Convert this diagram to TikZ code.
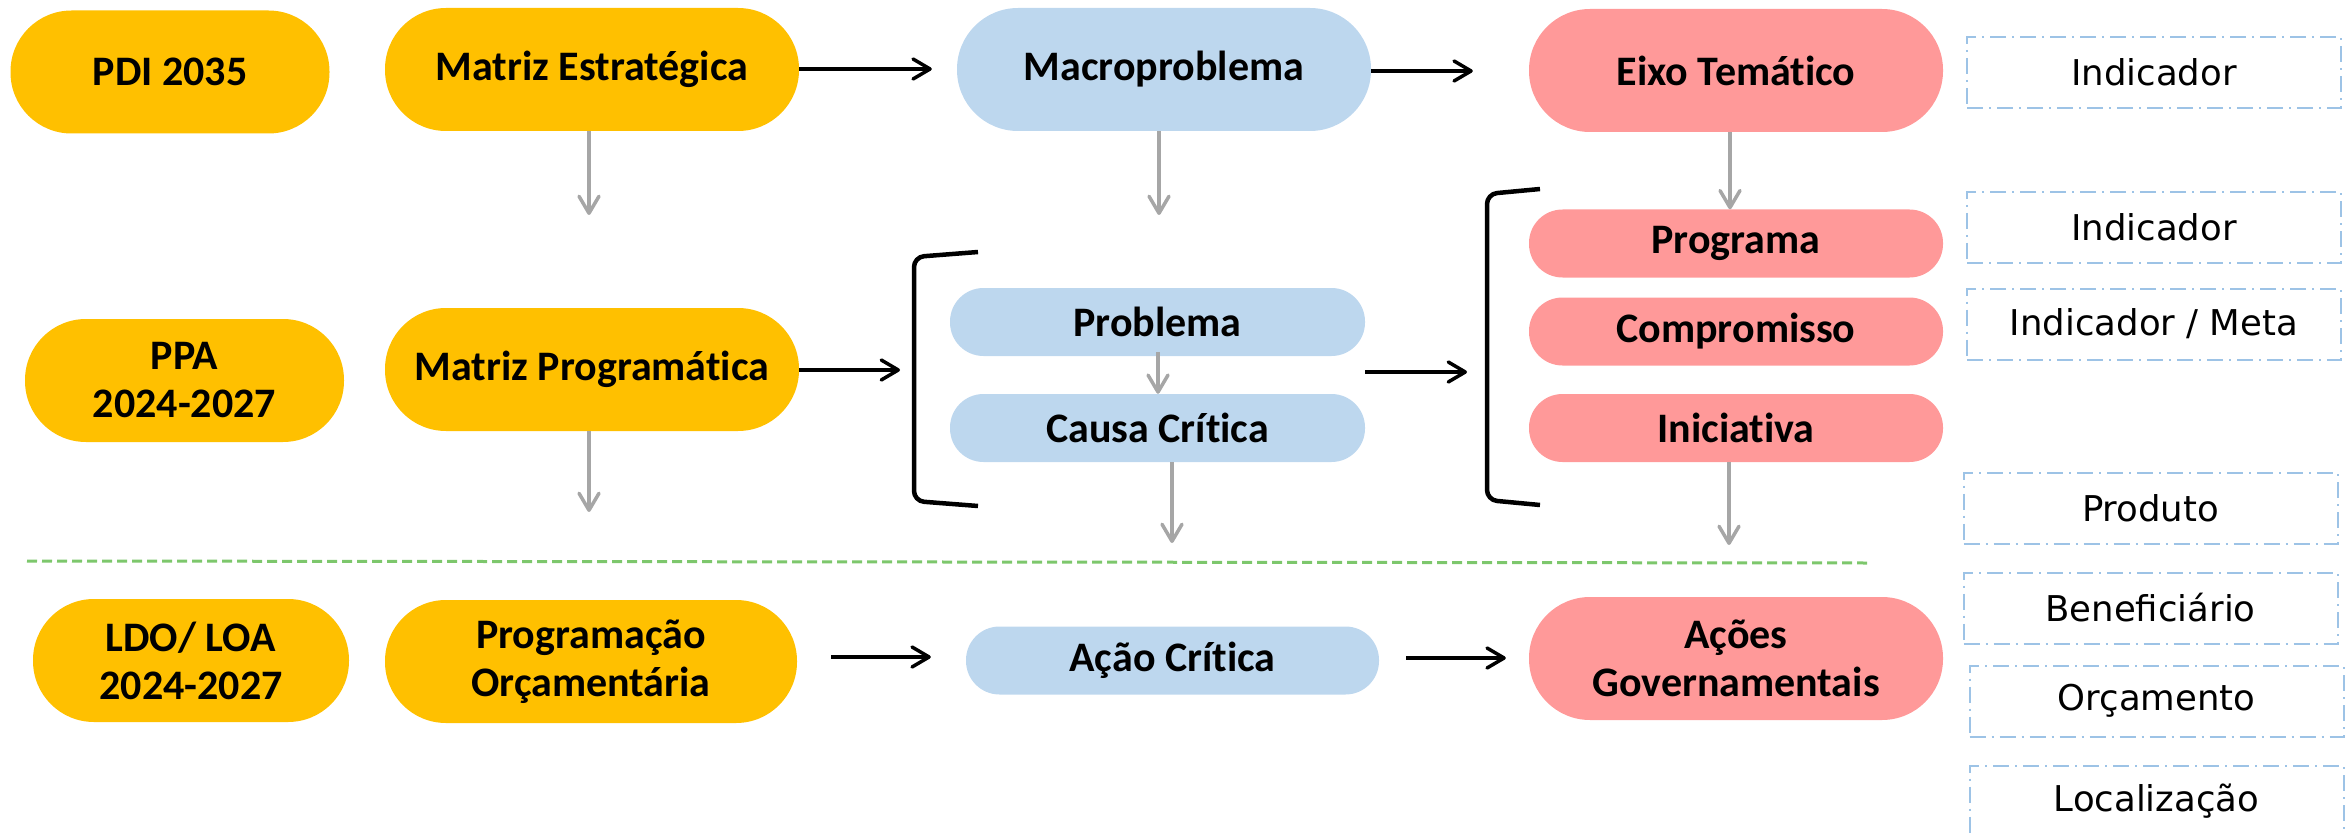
\documentclass[tikz,border=0pt]{standalone}
\usepackage{fontspec}
\setmainfont{Carlito}[Ligatures=NoCommon]
\newfontfamily\boxfont{DejaVu Sans}
\usetikzlibrary{arrows.meta}
\definecolor{gold}{HTML}{FFC000}
\definecolor{lblue}{HTML}{BDD7EE}
\definecolor{rosy}{HTML}{FF9999}
\definecolor{dashblue}{HTML}{9DC3E6}
\definecolor{arrgray}{HTML}{A6A6A6}
\definecolor{sepgreen}{HTML}{7DC76C}
\begin{document}
\begin{tikzpicture}[x=1pt,y=-1pt,
  pill/.style={fill=#1, draw=none, inner sep=0pt, align=center, text=black,
    font=\bfseries\fontsize{42}{48}\selectfont},
  big/.style={minimum height=123pt, rounded corners=61pt},
  small/.style={minimum height=68pt, rounded corners=33.5pt},
  infobox/.style={draw=dashblue, line width=2pt, dash pattern=on 16pt off 6pt on 2pt off 6pt,
    minimum width=374pt, minimum height=71pt, inner sep=0pt, font=\boxfont\fontsize{35.5}{40}\selectfont},
  blackarrow/.style={draw=black, line width=3.5pt, -{Straight Barb[length=17pt,width=20pt,line join=round,line cap=round]}},
  grayarrow/.style={draw=arrgray, line width=3.5pt, -{Straight Barb[length=17pt,width=20pt,line join=round,line cap=round]}},
  bracketline/.style={draw=black, line width=4.5pt, rounded corners=10pt}
]
\useasboundingbox (0,0) rectangle (2349,834);

% row 1
\node[pill=gold, big, minimum width=319pt] (pdi) at (170,72) {PDI 2035};
\node[pill=gold, big, minimum width=414pt] (me) at (592,69.5) {Matriz Estratégica};
\node[pill=lblue, big, minimum width=414pt] (macro) at (1164,69.5) {Macroproblema};
\node[pill=rosy, big, minimum width=414pt] (eixo) at (1736,70.5) {Eixo Temático};

% row 2
\node[pill=gold, big, minimum width=319pt] (ppa) at (184.5,380.5) {PPA\\2024-2027};
\node[pill=gold, big, minimum width=414pt] (mp) at (592,369.5) {Matriz Programática};
\node[pill=lblue, small, minimum width=415pt] (prob) at (1157.5,322) {Problema};
\node[pill=lblue, small, minimum width=415pt] (causa) at (1157.5,428) {Causa Crítica};
\node[pill=rosy, small, minimum width=414pt] (prog) at (1736,243.5) {Programa};
\node[pill=rosy, small, minimum width=414pt] (comp) at (1736,331.5) {Compromisso};
\node[pill=rosy, small, minimum width=414pt] (inic) at (1736,428) {Iniciativa};

% row 3
\node[pill=gold, big, minimum width=316pt] (ldo) at (191,660.5) {LDO/ LOA\\2024-2027};
\node[pill=gold, big, minimum width=412pt] (po) at (591,661.5) {Programação\\Orçamentária};
\node[pill=lblue, small, minimum width=413pt] (acao) at (1172.5,660.5) {Ação Crítica};
\node[pill=rosy, big, minimum width=414pt] (acoes) at (1736,658.5) {Ações\\Governamentais};

% right info boxes
\node[infobox] (ind1) at (2154,72.5) {Indicador};
\node[infobox] (ind2) at (2154,227.5) {Indicador};
\node[infobox] (meta) at (2154,324) {Indicador / Meta};
\node[infobox] (produto) at (2150.5,508) {Produto};
\node[infobox] (benef) at (2150.5,608) {Beneficiário};
\node[infobox] (orc) at (2156.5,701) {Orçamento};
\node[infobox] (loc) at (2156.5,801) {Localização};

% brackets
\coordinate (lbt) at (978,252);
\coordinate (lbb) at (978,506);
\coordinate (rbt) at (1540,189);
\coordinate (rbb) at (1540,505);
\draw[bracketline] (lbt) -- (914,257) -- (914,501) -- (lbb);
\draw[bracketline] (rbt) -- (1487,194) -- (1487,500) -- (rbb);

% separator
\draw[sepgreen, line width=3pt, dash pattern=on 10pt off 5pt] (27,561) -- (1867,563);

% free ends
\coordinate (e1) at (589,215);
\coordinate (e2) at (1159,215);
\coordinate (e3) at (589,512);
\coordinate (e4) at (1172,543);
\coordinate (e5) at (1729,545);
\coordinate (lbx) at (914,370);
\coordinate (rbx) at (1487,372);

% gray arrows
\draw[grayarrow] (me.south -| e1) -- (e1);
\draw[grayarrow] (macro.south -| e2) -- (e2);
\draw[grayarrow] (eixo.south -| 1730,0) -- (prog.north -| 1730,0);
\draw[grayarrow] (mp.south -| e3) -- (e3);
\draw[grayarrow] (1158,352) -- (causa.north -| 1158,0);
\draw[grayarrow] (causa.south -| e4) -- (e4);
\draw[grayarrow] (inic.south -| e5) -- (e5);

% black arrows
\draw[blackarrow, shorten >=25pt] (me.east |- 0,69) -- (macro.west |- 0,69);
\draw[blackarrow, shorten >=56pt] (macro.east |- 0,71) -- (eixo.west |- 0,71);
\draw[blackarrow, shorten >=14pt] (mp.east |- lbx) -- (lbx);
\draw[blackarrow, shorten >=20pt] (prob.east |- rbx) -- (rbx);
\draw[blackarrow, shorten <=34pt, shorten >=35pt] (po.east |- 0,657) -- (acao.west |- 0,657);
\draw[blackarrow, shorten <=27pt, shorten >=23pt] (acao.east |- 0,658) -- (acoes.west |- 0,658);
\end{tikzpicture}
\end{document}
